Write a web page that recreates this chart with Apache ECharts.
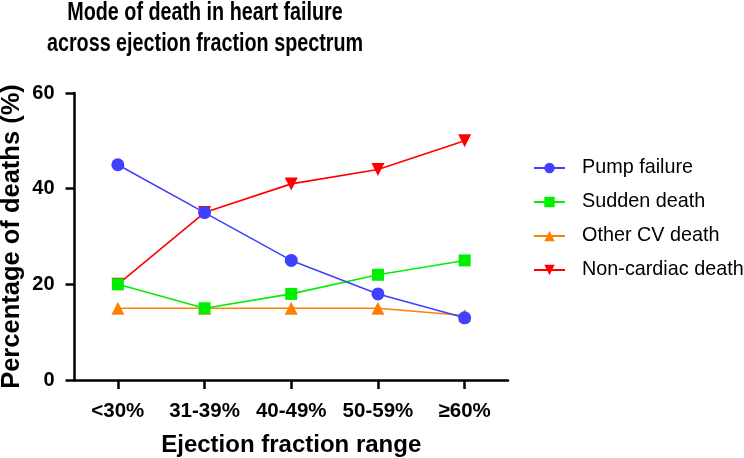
<!DOCTYPE html>
<html>
<head>
<meta charset="utf-8">
<script src="https://cdn.jsdelivr.net/npm/echarts@6/dist/echarts.min.js"></script>
<style>
  html, body { margin: 0; padding: 0; background: #fff; }
  #chart { width: 744px; height: 458px; }
</style>
</head>
<body>
<div id="chart"></div>
<script>
var categories = ['<30%', '31-39%', '40-49%', '50-59%', '≥60%'];
var pumpFailure = [45, 35, 25, 18, 13];
var suddenDeath = [20, 15, 18, 22, 25];
var otherCV = [15, 15, 15, 15, 13.5];
var nonCardiac = [20, 35, 41, 44, 50];
var yTicks = [0, 20, 40, 60];
var titleLines = ['Mode of death in heart failure', 'across ejection fraction spectrum'];

var chart = echarts.init(document.getElementById('chart'), null, { renderer: 'canvas' });

var font = '"Liberation Sans", Arial, sans-serif';

function mkSeries(name, data, color, symbol, z, rotate) {
  return {
    name: name,
    type: 'line',
    data: data,
    z: z,
    symbol: symbol,
    symbolSize: symbol === 'rect' ? 12 : 13,
    symbolRotate: rotate || 0,
    lineStyle: { color: color, width: 1.6 },
    itemStyle: { color: color, opacity: 1 },
    emphasis: { disabled: true }
  };
}

// title drawn as narrow bold text (GraphPad uses a condensed face)
function titleText(str, y) {
  return {
    type: 'text',
    x: 205,
    y: y,
    scaleX: 0.79,
    style: {
      text: str,
      x: 0,
      y: 0,
      align: 'center',
      verticalAlign: 'middle',
      font: 'bold 25px ' + font,
      fill: '#000'
    }
  };
}

var option = {
  backgroundColor: '#fff',
  animation: false,
  graphic: [
    titleText(titleLines[0], 13),
    titleText(titleLines[1], 44.5)
  ],
  legend: {
    orient: 'vertical',
    left: 533,
    top: 158,
    padding: 0,
    itemWidth: 31,
    itemHeight: 13,
    itemGap: 14,
    textStyle: {
      fontFamily: font,
      fontSize: 19.8,
      color: '#000',
      padding: [0, 0, 0, 12]
    },
    data: ['Pump failure', 'Sudden death', 'Other CV death', 'Non-cardiac death']
  },
  grid: {
    left: 74.5,
    right: 236,
    top: 93,
    bottom: 78,
    outerBoundsMode: 'none'
  },
  xAxis: {
    type: 'category',
    data: categories,
    boundaryGap: true,
    name: 'Ejection fraction range',
    nameLocation: 'middle',
    nameGap: 53,
    nameMoveOverlap: false,
    nameTextStyle: { fontFamily: font, fontWeight: 'bold', fontSize: 24, color: '#000', verticalAlign: 'top' },
    axisLine: { show: true, lineStyle: { color: '#000', width: 2.5 } },
    axisTick: { show: true, alignWithLabel: true, interval: 0, length: 9, lineStyle: { color: '#000', width: 2.5 } },
    axisLabel: { interval: 0, hideOverlap: false, fontFamily: font, fontWeight: 'bold', fontSize: 20.5, color: '#000', margin: 21 },
    splitLine: { show: false }
  },
  yAxis: {
    type: 'value',
    min: yTicks[0],
    max: yTicks[yTicks.length - 1],
    interval: 20,
    name: 'Percentage of deaths (%)',
    nameLocation: 'middle',
    nameGap: 50,
    nameMoveOverlap: false,
    nameTextStyle: { fontFamily: font, fontWeight: 'bold', fontSize: 25.5, color: '#000' },
    axisLine: { show: true, lineStyle: { color: '#000', width: 2.5 } },
    axisTick: { show: true, length: 9, lineStyle: { color: '#000', width: 2.5 } },
    axisLabel: { fontFamily: font, fontWeight: 'bold', fontSize: 20, color: '#000', margin: 20 },
    splitLine: { show: false }
  },
  series: [
    mkSeries('Pump failure', pumpFailure, '#4040FF', 'circle', 5),
    mkSeries('Sudden death', suddenDeath, '#00EE00', 'rect', 4),
    mkSeries('Other CV death', otherCV, '#FF8000', 'triangle', 3),
    mkSeries('Non-cardiac death', nonCardiac, '#FF0000', 'triangle', 2, 180)
  ]
};

chart.setOption(option);
</script>
</body>
</html>
